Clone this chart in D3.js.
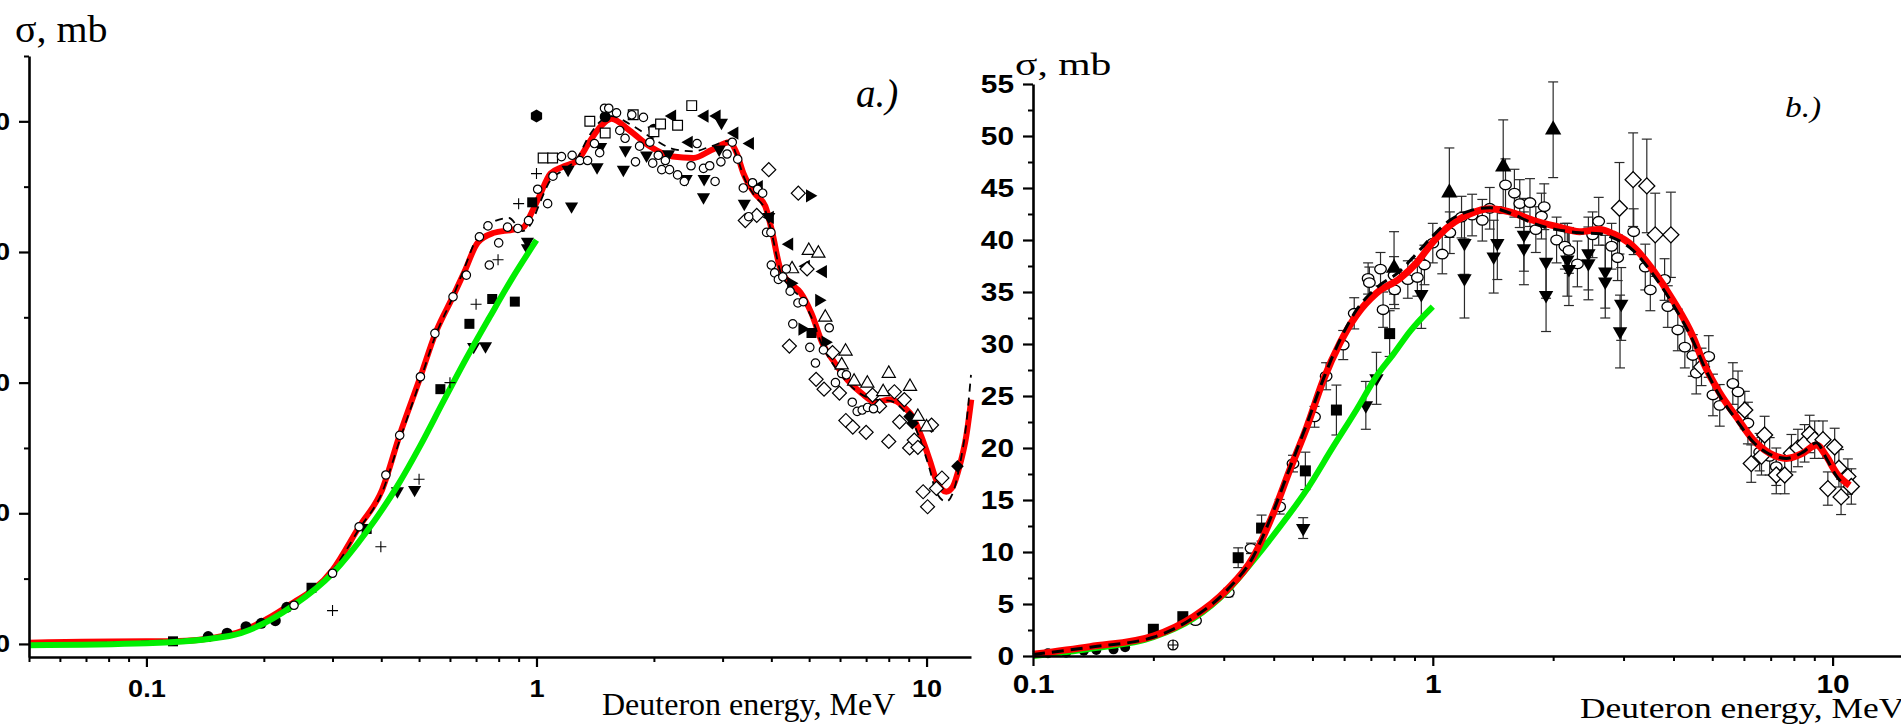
<!DOCTYPE html>
<html>
<head>
<meta charset="utf-8">
<script src="https://cdn.jsdelivr.net/npm/d3@7"></script>
<style>
  body { margin: 0; background: #fff; }
  svg { display: block; }
</style>
</head>
<body>
<div id="chart"></div>
<script>
// ---------- panel a.) curves [E (MeV), sigma] ----------
var aRed = [[0.05,0.1],[0.1,0.2],[0.116,0.2],[0.163,0.7],[0.229,2.85],[0.3,5.66],[0.351,8.97],[0.402,11.8],[0.446,16.0],[0.504,20.45],[0.551,23.8],[0.611,26.6],[0.654,28.5],[0.706,30.7],[0.774,31.45],[0.867,31.7],[0.926,31.9],[0.971,33.0],[1.015,34.2],[1.086,36.0],[1.163,36.5],[1.273,37.0],[1.359,38.3],[1.459,39.6],[1.557,40.2],[1.732,39.3],[1.96,38.05],[2.231,37.3],[2.527,37.2],[2.81,37.8],[3.125,38.4],[3.257,37.6],[3.395,36.0],[3.622,34.5],[3.86,33.5],[4.026,31.45],[4.2,28.9],[4.473,27.6],[4.75,26.9],[5.07,25.3],[5.41,23.0],[5.76,21.7],[6.27,20.2],[6.81,19.2],[7.4,18.5],[8.07,18.7],[8.78,18.1],[9.21,17.4],[9.69,15.9],[10.18,14.1],[10.59,12.55],[11.23,11.65],[11.66,12.0],[12.15,13.6],[12.64,15.9],[13.02,18.7]];
var aDash = [[0.05,0],[0.1,0.2],[0.163,0.7],[0.229,2.8],[0.3,5.6],[0.351,8.8],[0.402,11.6],[0.446,15.6],[0.504,20.2],[0.551,23.6],[0.611,26.6],[0.654,28.8],[0.706,31.2],[0.774,32.3],[0.85,32.6],[0.92,31.6],[0.97,32.2],[1.015,33.6],[1.086,35.5],[1.163,36.2],[1.273,37.2],[1.359,38.8],[1.459,40.0],[1.557,40.4],[1.732,39.8],[1.96,38.8],[2.231,37.9],[2.527,37.7],[2.81,38.1],[3.125,38.5],[3.257,37.4],[3.395,35.8],[3.622,34.3],[3.86,33.2],[4.026,31.2],[4.2,28.7],[4.473,27.3],[4.75,26.5],[5.07,25.0],[5.41,22.8],[5.76,21.4],[6.27,20.0],[6.81,19.1],[7.4,18.7],[8.07,18.6],[8.78,17.8],[9.21,17.0],[9.69,15.4],[10.18,13.4],[10.59,11.6],[11.23,10.9],[11.66,11.5],[12.15,13.6],[12.64,16.8],[13.0,20.6]];
var aGreen = [[0.05,-0.1],[0.1,0.05],[0.163,0.61],[0.239,2.98],[0.3,5.4],[0.367,8.6],[0.44,12.1],[0.504,15.2],[0.578,18.6],[0.662,21.9],[0.758,25.0],[0.867,28.0],[1.0,30.9]];

// ---------- panel a.) experimental points [E, sigma] ----------
var aOpenCircle = [[0.239,2.96],[0.300,5.41],[0.351,8.97],[0.411,12.93],[0.446,15.97],[0.504,20.45],[0.549,23.77],[0.611,26.57],[0.661,28.23],[0.714,31.16],[0.751,32.0],[0.757,29.0],[0.800,30.7],[0.843,31.9],[0.896,31.8],[0.954,32.4],[1.007,34.8],[1.068,33.7],[1.102,35.8],[1.159,37.3],[1.234,37.4],[1.292,37.0],[1.352,37.0],[1.408,38.3],[1.452,37.6],[1.494,41.0],[1.532,41.0],[1.604,40.65],[1.635,39.3],[1.687,38.7],[1.755,40.5],[1.794,36.9],[1.838,38.1],[1.88,40.3],[1.953,38.4],[1.986,36.8],[2.052,37.4],[2.095,36.3],[2.14,37.0],[2.193,36.3],[2.3,35.9],[2.393,35.4],[2.49,36.6],[2.58,38.3],[2.68,36.4],[2.78,36.6],[2.87,35.4],[2.97,36.9],[3.08,37.5],[3.176,38.4],[3.28,37.1],[3.39,34.9],[3.5,32.7],[3.58,35.3],[3.69,34.8],[3.8,34.5],[3.89,31.5],[3.99,31.5],[4.0,29.0],[4.08,28.4],[4.17,27.9],[4.28,28.1],[4.37,28.7],[4.47,27.0],[4.54,24.5],[4.68,26.1],[4.83,26.2],[5.02,22.7],[5.19,21.5],[5.44,22.5],[5.63,24.2],[5.84,20.0],[6.06,20.7],[6.23,20.6],[6.45,18.5],[6.64,17.8],[6.84,17.9],[7.06,18.1],[7.31,18.0]];
var aFilledCircle = [[0.144,0.56],[0.161,0.82],[0.18,1.32],[0.197,1.58],[0.214,1.78],[0.229,2.8],[1.5,40.35],[2.0,39.4]];
var aFilledSquare = [[0.117,0.2],[0.265,4.3],[0.367,8.8],[0.567,19.5],[0.673,24.5],[0.77,26.4],[0.88,26.2],[0.975,33.8],[5.07,23.8]];
var aCross = [[0.3,2.55],[0.399,7.44],[0.5,12.6],[0.6,20.0],[0.7,26.0],[0.797,29.4],[0.9,33.7],[1.0,36.0]];
var aDownTri = [[0.44,11.7],[0.487,11.8],[0.69,22.75],[0.74,22.8],[0.948,30.8],[0.948,30.3],[1.205,36.3],[1.23,33.5],[1.43,36.5],[1.46,38.05],[1.67,36.3],[1.69,37.8],[1.915,37.4],[2.0,39.3],[2.18,37.5],[2.42,35.6],[2.69,35.6],[2.68,34.2],[2.94,37.85],[2.98,39.9],[3.41,33.7],[3.94,32.7]];
var aLeftTri = [[2.23,40.4],[2.7,40.4],[2.9,40.4],[2.46,38.4],[3.22,39.1],[3.53,38.3],[3.72,35.0],[3.97,32.65],[4.45,30.6],[4.91,28.9],[5.43,28.5]];
var aRightTri = [[5.02,34.3],[5.3,26.3],[4.49,27.6],[5.5,23.1],[4.8,24.1]];
var aDiamond = [[3.94,36.3],[4.69,34.5],[3.43,32.4],[3.67,32.8],[4.45,22.8],[4.94,28.7],[5.21,20.25],[5.46,19.5],[5.74,22.3],[5.98,19.2],[7.27,19.05],[8.27,19.3],[8.77,18.7],[6.21,17.1],[6.47,16.6],[7.0,16.2],[7.58,18.2],[8.0,15.5],[8.53,17.0],[9.05,15.0],[9.3,15.6],[9.5,15.05],[9.8,11.65],[10.06,10.5],[10.3,16.75],[10.6,11.9],[10.95,12.7]];
var aUpTri = [[4.99,30.1],[5.28,29.9],[4.52,28.7],[5.5,25.0],[6.2,22.4],[6.06,21.35],[6.52,20.1],[7.05,19.95],[8.0,20.7],[9.07,19.7],[7.74,19.3],[9.5,17.4],[10.0,16.6]];
var aOpenSquare = [[1.04,37.2],[1.1,37.2],[1.37,40.0],[1.5,39.1],[1.77,40.5],[2.0,39.2],[2.08,39.8],[2.3,39.7],[2.5,41.2]];
var aHexagon = [[1.0,40.4]];
var aFilledDiamond = [[9.05,17.4],[9.2,16.9],[12.0,13.6]];

// ---------- panel b.) curves ----------
var bRed = [[0.1,0.16],[0.139,0.9],[0.2,1.92],[0.252,3.78],[0.305,6.35],[0.356,9.55],[0.399,13.7],[0.439,17.9],[0.484,22.0],[0.532,26.5],[0.586,30.1],[0.645,32.8],[0.723,34.9],[0.827,36.3],[0.911,37.8],[1.0,39.8],[1.103,41.4],[1.237,42.5],[1.388,43.0],[1.557,42.7],[1.781,41.9],[2.039,41.3],[2.331,40.8],[2.616,41.0],[2.824,40.6],[3.168,39.4],[3.555,37.1],[3.988,34.2],[4.475,30.7],[4.74,28.3],[5.219,25.3],[5.744,23.0],[6.322,20.8],[6.96,19.5],[7.66,19.0],[8.43,19.5],[9.11,20.3],[9.65,19.2],[10.22,17.6],[11.03,16.4]];
var bDash = [[0.1,0.15],[0.139,0.85],[0.2,1.8],[0.252,3.7],[0.305,6.3],[0.356,9.6],[0.399,13.9],[0.439,18.1],[0.484,22.3],[0.532,26.6],[0.586,30.4],[0.645,33.3],[0.723,35.4],[0.827,37.0],[0.911,38.7],[1.0,40.4],[1.103,41.9],[1.237,42.8],[1.388,43.1],[1.557,42.6],[1.781,41.6],[2.039,41.0],[2.331,40.7],[2.616,40.6],[2.824,40.2],[3.168,39.0],[3.555,36.7],[3.988,33.8],[4.475,30.3],[4.74,28.1],[5.219,25.0],[5.744,22.7],[6.322,20.6],[6.96,19.4],[7.66,19.0],[8.43,19.6],[9.11,20.5],[9.65,19.0],[10.22,17.3],[10.6,16.6]];
var bGreen = [[0.1,0],[0.139,0.7],[0.2,1.8],[0.252,3.6],[0.305,6.2],[0.356,9.2],[0.414,12.4],[0.484,16.0],[0.563,20.1],[0.645,23.7],[0.723,26.9],[0.796,29.0],[0.876,31.2],[1.0,33.6]];

// ---------- panel b.) experimental points [E, sigma, error] ----------
var bFilledCircle = [[0.109,0.26,0],[0.121,0.32,0],[0.134,0.5,0],[0.144,0.58,0],[0.159,0.64,0],[0.170,0.84,0]];
var bCirclePlus = [[0.224,1.06,0]];
var bFilledSquare = [[0.2,2.57,0],[0.237,3.78,0],[0.326,9.45,0.95],[0.373,12.3,1.25],[0.48,17.8,1.8],[0.574,23.65,2.4],[0.78,31.0,2.2]];
var bOpenCircle = [[0.255,3.4,0.3],[0.308,6.1,0.4],[0.351,10.35,0.5],[0.414,14.35,0.7],[0.447,18.5,0.8],[0.506,23.0,1.0],[0.541,26.9,1.3],[0.597,29.9,1.4],[0.636,32.95,1.5],[0.689,36.3,1.5],[0.694,35.9,1.5],[0.74,37.2,1.6],[0.751,33.3,1.7],[0.80,36.6,1.8],[0.803,35.2,1.8],[0.866,36.2,1.8],[0.915,36.4,1.8],[0.953,37.6,1.9],[1.0,39.7,1.9],[1.056,38.65,1.9],[1.103,40.7,2],[1.18,42.2,2],[1.254,42.4,2],[1.33,41.9,2],[1.388,43.05,2],[1.52,45.3,2.5],[1.6,44.5,2.3],[1.65,43.5,2.3],[1.75,43.6,2.3],[1.81,41.0,2.2],[1.87,42.3,2.2],[1.9,43.2,2.2],[2.04,40.0,2.2],[2.14,39.4,2.2],[2.19,39.0,2.2],[2.3,37.7,2.2],[2.51,40.5,2.2],[2.6,41.8,2.3],[2.8,39.4,2.2],[2.9,38.3,2.2],[3.18,40.8,2.2],[3.4,37.4,2.2],[3.5,35.2,2.0],[3.8,36.2,2.0],[3.87,33.6,2.0],[4.1,31.35,2.0],[4.27,29.7,2.0],[4.47,28.9,2.0],[4.56,27.2,2.0],[4.9,28.8,2.0],[5.02,25.1,2.0],[5.22,24.1,2.0],[5.63,26.2,2.0],[5.8,25.4,2.0],[6.14,22.4,2.0],[6.57,19.6,1.8],[6.96,19.2,1.8],[7.23,18.2,1.8]];
var bDownTri = [[0.474,12.3,1.0],[0.68,24.1,2.3],[0.723,26.7,2.5],[0.936,34.8,3.3],[1.2,39.7,3.0],[1.2,36.3,3.8],[1.45,39.7,3.5],[1.42,38.4,3.5],[1.69,40.5,3.5],[1.69,39.2,3.5],[1.92,37.9,3.5],[1.92,34.7,3.5],[2.17,38.1,3.5],[2.19,37.2,3.5],[2.45,38.7,3.5],[2.45,37.75,3.5],[2.7,36.95,3.5],[2.7,36.0,3.5],[2.96,33.85,3.5],[2.94,31.2,3.5]];
var bUpTri = [[0.80,37.3,3.5],[1.1,44.55,4.3],[1.5,47.05,4.5],[2.0,50.6,4.6]];
var bDiamond = [[2.93,43.05,4.4],[3.17,45.8,4.5],[3.43,45.2,4.5],[3.6,40.5,4.0],[3.94,40.5,4.1],[4.70,27.8,1.8],[6.03,23.65,1.8],[6.26,18.5,1.8],[6.76,21.25,1.8],[6.64,19.2,1.8],[7.23,17.4,1.8],[7.59,17.4,1.8],[7.89,19.5,1.8],[8.19,20.0,1.8],[8.51,20.45,1.8],[8.76,21.35,1.8],[9.02,20.8,1.8],[9.46,20.8,1.8],[9.73,16.1,1.6],[10.12,20.1,1.8],[10.37,18.05,1.8],[10.5,15.3,1.7],[10.92,17.25,1.7],[11.14,16.3,1.7]];

// ---------- ticks ----------
var xMajor = [0.1, 1, 10];
var aXMinor = [0.05,0.06,0.07,0.08,0.09,0.2,0.3,0.4,0.5,0.6,0.7,0.8,0.9,2,3,4,5,6,7,8,9];
var bXMinor = [0.2,0.3,0.4,0.5,0.6,0.7,0.8,0.9,2,3,4,5,6,7,8,9];
var aYMajor = [0, 10, 20, 30, 40];
var aYMinor = [5, 15, 25, 35, 45];
var bYMajor = [0, 5, 10, 15, 20, 25, 30, 35, 40, 45, 50, 55];
var bYMinor = [2.5, 7.5, 12.5, 17.5, 22.5, 27.5, 32.5, 37.5, 42.5, 47.5, 52.5];

var width = 1901, height = 725;
var sansFont = "'Liberation Sans', Arial, sans-serif";
var serifFont = "'Liberation Serif', 'Times New Roman', serif";

var svg = d3.select('#chart').append('svg')
    .attr('width', width)
    .attr('height', height);

// scales
var ax = d3.scaleLog().domain([0.05, 13]).range([29, 971]);
var ay = d3.scaleLinear().domain([-1, 45]).range([657, 56]);
var bx = d3.scaleLog().domain([0.1, 15]).range([1033, 1903]);
var by = d3.scaleLinear().domain([0, 55]).range([656, 84]);

// marker shapes
var tri = function(size) { return d3.symbol().type(d3.symbolTriangle).size(size)(); };
var sq = function(size) { return d3.symbol().type(d3.symbolSquare).size(size)(); };
var circ = function(r) { return 'M' + (-r) + ',0a' + r + ',' + r + ' 0 1,0 ' + (2 * r) + ',0a' + r + ',' + r + ' 0 1,0 ' + (-2 * r) + ',0Z'; };
var ellipse = function(rx, ry) { return 'M' + (-rx) + ',0a' + rx + ',' + ry + ' 0 1,0 ' + (2 * rx) + ',0a' + rx + ',' + ry + ' 0 1,0 ' + (-2 * rx) + ',0Z'; };
var hexagon = function(r) {
    return 'M' + d3.range(6).map(function(i) {
        var a = Math.PI / 3 * i;
        return [r * Math.cos(a), r * Math.sin(a)].join(',');
    }).join('L') + 'Z';
};
var plus = function(a) { return 'M' + (-a) + ',0H' + a + 'M0,' + (-a) + 'V' + a; };

function drawLine(g, data, x, y, color, w, dash) {
    var line = d3.line()
        .x(function(d) { return x(d[0]); })
        .y(function(d) { return y(d[1]); })
        .curve(d3.curveMonotoneX);
    g.append('path')
        .datum(data)
        .attr('d', line)
        .attr('fill', 'none')
        .attr('stroke', color)
        .attr('stroke-width', w)
        .attr('stroke-linejoin', 'round')
        .attr('stroke-dasharray', dash || null);
}

function drawPoints(g, data, x, y, shape, rot, fill, stroke, sw) {
    g.append('g').selectAll('path')
        .data(data)
        .enter()
        .append('path')
        .attr('transform', function(d) { return 'translate(' + x(d[0]) + ',' + y(d[1]) + ') rotate(' + rot + ')'; })
        .attr('d', shape)
        .attr('fill', fill)
        .attr('stroke', stroke)
        .attr('stroke-width', sw);
}

function drawErrors(g, data, x, y) {
    var bars = g.append('g')
        .attr('stroke', '#2a2a2a')
        .attr('stroke-width', 1.2)
        .selectAll('g')
        .data(data.filter(function(d) { return d[2] > 0; }))
        .enter()
        .append('g');
    bars.append('line')
        .attr('x1', function(d) { return x(d[0]); })
        .attr('x2', function(d) { return x(d[0]); })
        .attr('y1', function(d) { return y(d[1] - d[2]); })
        .attr('y2', function(d) { return y(d[1] + d[2]); });
    [-1, 1].forEach(function(s) {
        bars.append('line')
            .attr('x1', function(d) { return x(d[0]) - 5; })
            .attr('x2', function(d) { return x(d[0]) + 5; })
            .attr('y1', function(d) { return y(d[1] + s * d[2]); })
            .attr('y2', function(d) { return y(d[1] + s * d[2]); });
    });
}

function styleAxis(g, size) {
    g.attr('font-family', sansFont)
        .attr('font-size', size)
        .attr('font-weight', 'bold');
    g.select('.domain').attr('stroke-width', 2.6);
    g.selectAll('.tick line').attr('stroke-width', 2.2);
}

function addAxes(xs, ys, y0, x0, xMinor, yMajor, yMinor, xPad, fontSize, stretch) {
    // x axis
    var gx = svg.append('g')
        .attr('transform', 'translate(0,' + y0 + ')')
        .call(d3.axisBottom(xs).tickValues(xMajor).tickSize(10).tickSizeOuter(0).tickPadding(xPad)
            .tickFormat(function(d) { return String(d); }));
    styleAxis(gx, fontSize);
    gx.selectAll('.tick text').attr('transform', 'scale(' + stretch + ',1)');
    var gxm = svg.append('g')
        .attr('transform', 'translate(0,' + y0 + ')')
        .call(d3.axisBottom(xs).tickValues(xMinor).tickSize(5).tickFormat(''));
    gxm.select('.domain').remove();
    gxm.selectAll('.tick line').attr('stroke-width', 2);

    // y axis
    var gy = svg.append('g')
        .attr('transform', 'translate(' + x0 + ',0)')
        .call(d3.axisLeft(ys).tickValues(yMajor).tickSize(10).tickSizeOuter(0).tickPadding(9)
            .tickFormat(function(d) { return String(d); }));
    styleAxis(gy, fontSize);
    gy.selectAll('.tick text')
        .attr('x', -19 / stretch)
        .attr('transform', 'scale(' + stretch + ',1)');
    var gym = svg.append('g')
        .attr('transform', 'translate(' + x0 + ',0)')
        .call(d3.axisLeft(ys).tickValues(yMinor).tickSize(5).tickFormat(''));
    gym.select('.domain').remove();
    gym.selectAll('.tick line').attr('stroke-width', 2);
}

// ================= panel a.) =================
var ga = svg.append('g');
drawLine(ga, aRed, ax, ay, '#ff0000', 6);
drawLine(ga, aDash, ax, ay, '#000', 1.8, '8,6');
drawPoints(ga, aFilledCircle, ax, ay, circ(5.5), 0, '#000', 'none', 0);
drawPoints(ga, aFilledSquare, ax, ay, sq(100), 0, '#000', 'none', 0);
drawPoints(ga, aDownTri, ax, ay, tri(75), 180, '#000', 'none', 0);
drawPoints(ga, aLeftTri, ax, ay, tri(75), -90, '#000', 'none', 0);
drawPoints(ga, aRightTri, ax, ay, tri(75), 90, '#000', 'none', 0);
drawPoints(ga, aFilledDiamond, ax, ay, sq(80), 45, '#000', 'none', 0);
drawPoints(ga, aHexagon, ax, ay, hexagon(6.5), 90, '#000', 'none', 0);
drawLine(ga, aGreen, ax, ay, '#00ee00', 6);
drawPoints(ga, aCross, ax, ay, plus(5.5), 0, 'none', '#000', 1.1);
drawPoints(ga, aOpenSquare, ax, ay, sq(95), 0, '#fff', '#000', 1.2);
drawPoints(ga, aDiamond, ax, ay, sq(98), 45, '#fff', '#000', 1.2);
drawPoints(ga, aUpTri, ax, ay, tri(75), 0, '#fff', '#000', 1.2);
drawPoints(ga, aOpenCircle, ax, ay, circ(4.2), 0, '#fff', '#000', 1.2);

addAxes(ax, ay, 657, 29, aXMinor, aYMajor, aYMinor, 13, 24, 1.13);

// ================= panel b.) =================
var gb = svg.append('g');
[bFilledSquare, bOpenCircle, bDownTri, bUpTri, bDiamond].forEach(function(s) { drawErrors(gb, s, bx, by); });
drawPoints(gb, bFilledCircle, bx, by, circ(5), 0, '#000', 'none', 0);
drawPoints(gb, bCirclePlus, bx, by, circ(5) + plus(5), 0, '#fff', '#000', 1.2);
drawPoints(gb, bOpenCircle, bx, by, ellipse(5.8, 4.8), 0, '#fff', '#000', 1.3);
drawPoints(gb, bDiamond, bx, by, sq(128), 45, '#fff', '#000', 1.3);
drawPoints(gb, bFilledSquare, bx, by, sq(121), 0, '#000', 'none', 0);
drawPoints(gb, bDownTri, bx, by, tri(90), 180, '#000', 'none', 0);
drawPoints(gb, bUpTri, bx, by, tri(115), 0, '#000', 'none', 0);
drawLine(gb, bGreen, bx, by, '#00ee00', 6);
drawLine(gb, bRed, bx, by, '#ff0000', 7);
drawLine(gb, bDash, bx, by, '#000', 3, '12,7');

addAxes(bx, by, 656, 1033, bXMinor, bYMajor, bYMinor, 9, 25.5, 1.17);

// ================= texts =================
function addText(x, y, txt, size, italic, stretch) {
    svg.append('text')
        .attr('transform', 'translate(' + x + ',' + y + ') scale(' + (stretch || 1) + ',1)')
        .attr('font-family', serifFont)
        .attr('font-size', size)
        .attr('font-style', italic ? 'italic' : 'normal')
        .text(txt);
}
addText(15, 42, 'σ, mb', 37, false, 1.08);
addText(1015, 75, 'σ, mb', 32, false, 1.3);
addText(856, 107, 'a.)', 39, true);
addText(1785, 117, 'b.)', 29, true, 1.15);
addText(602, 715, 'Deuteron energy, MeV', 32);
addText(1580, 718, 'Deuteron energy, MeV', 30, false, 1.18);
</script>
</body>
</html>
